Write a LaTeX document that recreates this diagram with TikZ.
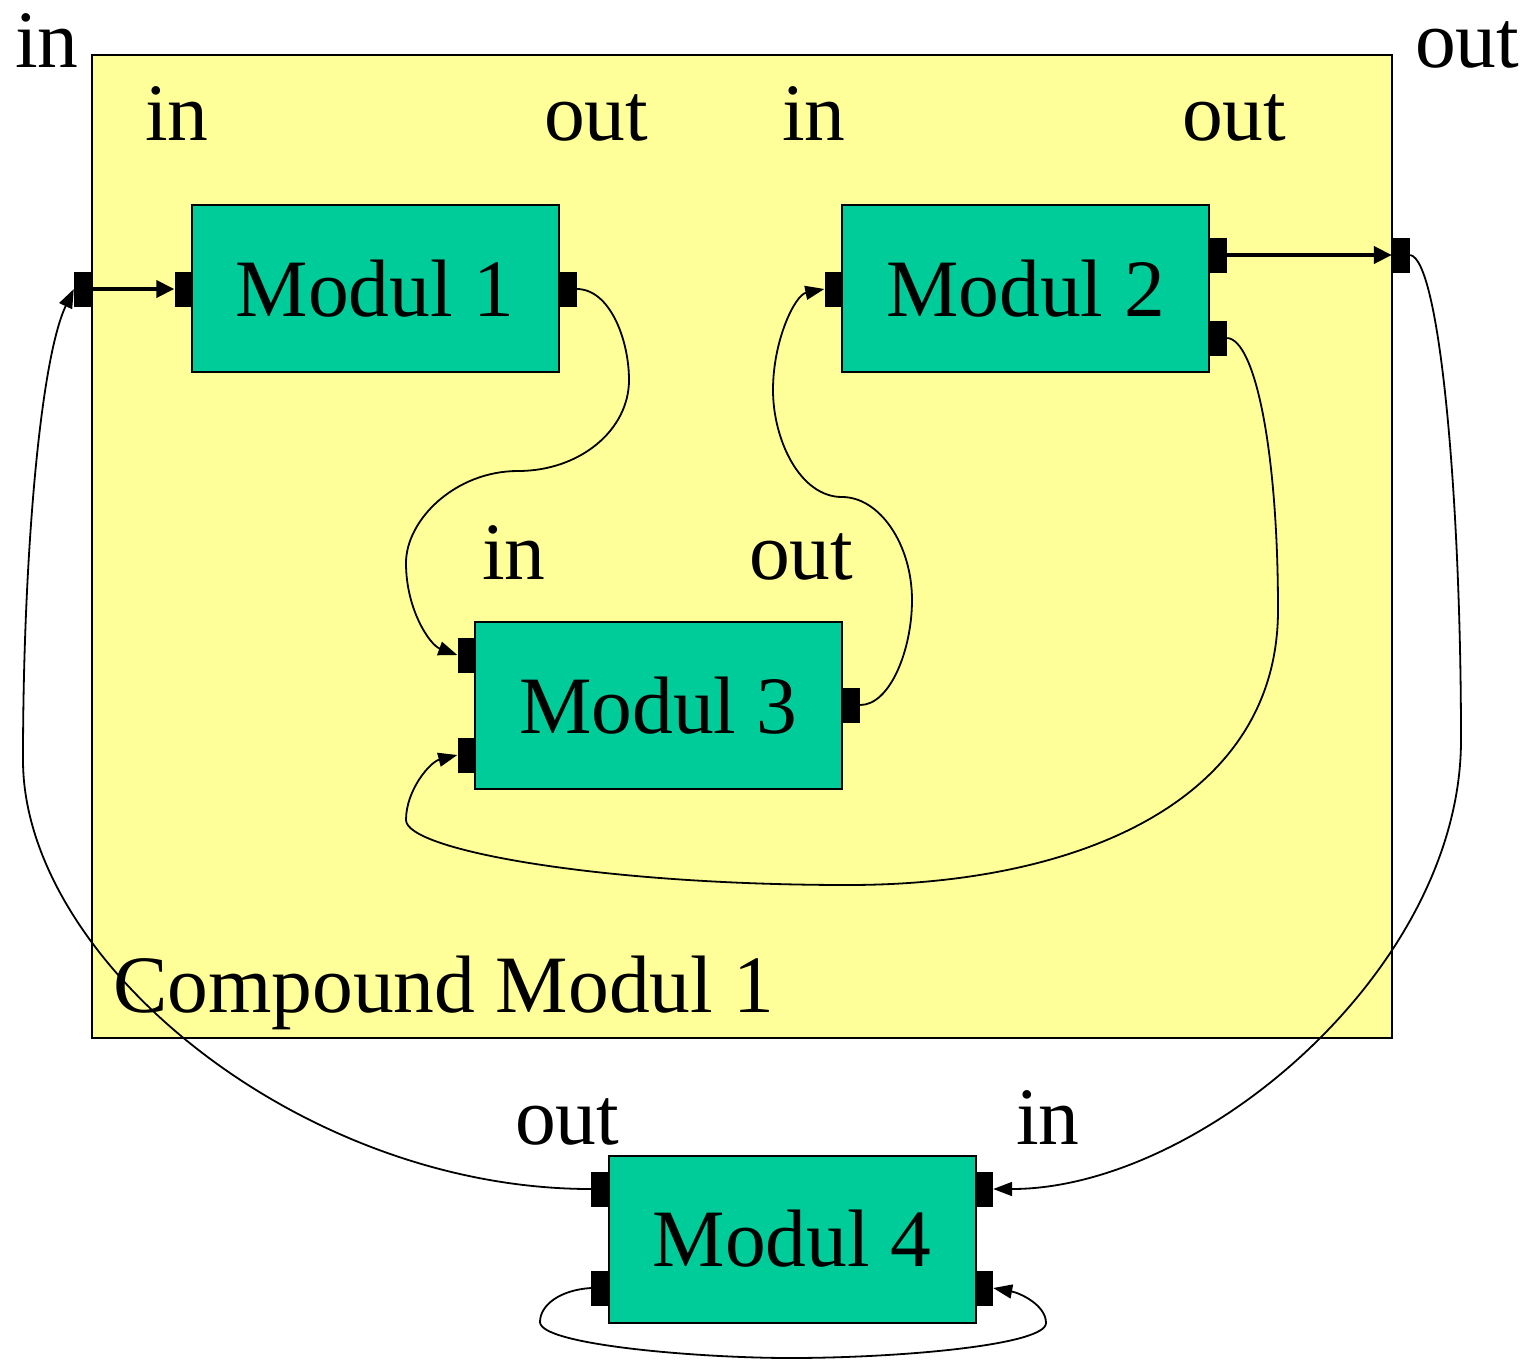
\documentclass[tikz,border=0pt]{standalone}
\usepackage{fontspec}
\setmainfont{Liberation Serif}
\usetikzlibrary{arrows.meta}
\definecolor{cyellow}{HTML}{FFFF99}
\definecolor{mgreen}{HTML}{00CC99}
\begin{document}
\begin{tikzpicture}[x=1pt,y=-1pt,
 every node/.style={font=\fontsize{81.5}{98}\selectfont},
 compound/.style={draw=black, line width=2pt, fill=cyellow, minimum width=1300pt, minimum height=983pt, inner sep=0pt},
 module/.style={draw=black, line width=2pt, fill=mgreen, minimum width=367pt, minimum height=167pt, inner sep=0pt},
 port/.style={fill=black, draw=none, minimum width=18pt, minimum height=35pt, inner sep=0pt},
 lbl/.style={anchor=base west, inner sep=0pt},
 conn/.style={line width=1.8pt, -{Triangle[length=19pt,width=14pt]}},
 bus/.style={line width=4pt, -{Triangle[length=18pt,width=17pt]}},
 plain/.style={line width=1.8pt}]
\useasboundingbox (0,0) rectangle (1526,1360);

% compound box
\node[compound] (cm) at (742,546.5) {};
\node[lbl] (cmlbl) at (113,1012) {Compound Modul 1};

% modules
\node[module] (m1) at (375,288.5) {Modul 1};
\node[module] (m2) at (1025.5,288.5) {Modul 2};
\node[module] (m3) at (658.5,705.5) {Modul 3};
\node[module] (m4) at (792,1239) {Modul 4};

% labels
\node[lbl] (lcin) at (15,67) {in};
\node[lbl] (lcout) at (1415,67) {out};
\node[lbl] (l1in) at (145,140) {in};
\node[lbl] (l1out) at (544,140) {out};
\node[lbl] (l2in) at (782,140) {in};
\node[lbl] (l2out) at (1182,140) {out};
\node[lbl] (l3in) at (482,579) {in};
\node[lbl] (l3out) at (749,579) {out};
\node[lbl] (l4out) at (515,1144) {out};
\node[lbl] (l4in) at (1016,1144) {in};

% ports
\node[port] (cin) at (83,289) {};
\node[port] (cout) at (1401,255) {};
\node[port] (m1i) at (183.5,289) {};
\node[port] (m1o) at (567.5,289) {};
\node[port] (m2i) at (833.5,289) {};
\node[port] (m2o) at (1218,255) {};
\node[port] (m2p) at (1218,338) {};
\node[port] (m3i) at (466.5,655) {};
\node[port] (m3j) at (466.5,755) {};
\node[port] (m3o) at (851,705) {};
\node[port] (m4o) at (600,1189) {};
\node[port] (m4l) at (600,1288) {};
\node[port] (m4i) at (984,1189) {};
\node[port] (m4r) at (984,1288) {};

% straight buses
\draw[bus] (cin.east) -- (m1i.west);
\draw[bus] (m2o.east) -- (cout.west);

% Modul 1 -> Modul 3
\draw[conn] (m1o.east) .. controls (610,289) and (629,340) .. (629,380)
  .. controls (629,430) and (580,471) .. (518,471)
  .. controls (455,471) and (406,520) .. (406,563)
  .. controls (406,610) and (430,645) .. (m3i.west);

% Modul 3 -> Modul 2
\draw[conn] (m3o.east) .. controls (890,705) and (912,650) .. (912,600)
  .. controls (912,545) and (880,497) .. (842,497)
  .. controls (800,497) and (773,440) .. (773,390)
  .. controls (773,340) and (795,295) .. (m2i.west);

% Modul 2 -> Modul 3
\draw[conn] (m2p.east) .. controls (1255,340) and (1278,450) .. (1278,610)
  .. controls (1278,800) and (1080,885) .. (848,885)
  .. controls (600,885) and (406,850) .. (406,820)
  .. controls (406,790) and (430,762) .. (m3j.west);

% Modul 4 -> compound in
\draw[conn] (m4o.west) .. controls (300,1189) and (23,960) .. (23,760)
  .. controls (23,560) and (40,360) .. (cin.west);

% compound out -> Modul 4
\draw[conn] (cout.east) .. controls (1440,260) and (1461,500) .. (1461,740)
  .. controls (1461,970) and (1200,1189) .. (m4i.east);

% Modul 4 loop
\draw[conn] (m4l.west) .. controls (560,1290) and (540,1305) .. (540,1322)
  .. controls (540,1345) and (700,1358) .. (790,1358)
  .. controls (900,1358) and (1046,1345) .. (1046,1323)
  .. controls (1046,1305) and (1020,1293) .. (m4r.east);
\end{tikzpicture}
\end{document}
